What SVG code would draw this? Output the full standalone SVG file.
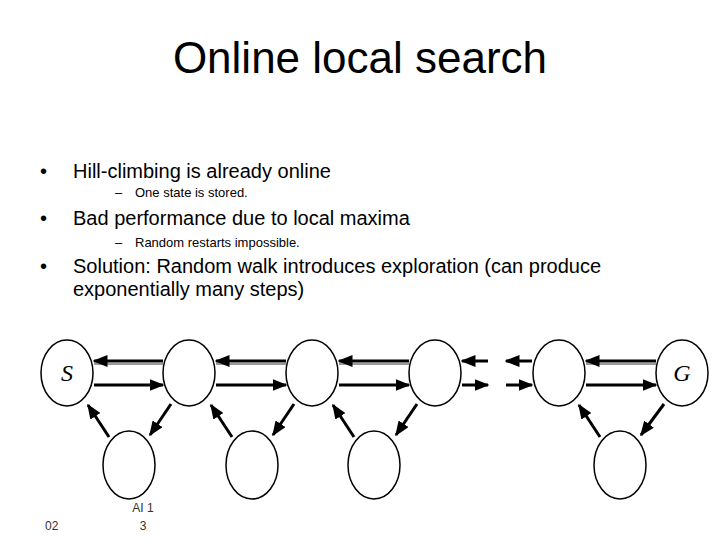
<svg xmlns="http://www.w3.org/2000/svg" width="720" height="540" viewBox="0 0 720 540">
<style>
text{font-family:"Liberation Sans",Arial,sans-serif;fill:#000}
.b{font-size:20px}.s{font-size:13px}
.n ellipse{fill:#fff;stroke:#000;stroke-width:1.5}
.e line{stroke:#000;stroke-width:3}
.g line{stroke:#999;stroke-width:2}
.lab{font-family:"Liberation Serif",serif;font-style:italic;font-size:24px}
.f{font-size:12px;fill:#333}
</style>
<defs><marker id="a" markerWidth="5" markerHeight="4" refX="4.5" refY="2" orient="auto" markerUnits="strokeWidth"><path d="M0,0L5,2L0,4z" fill="#000"/></marker></defs>
<rect width="720" height="540" fill="#fff"/>
<text x="360" y="73" font-size="44" text-anchor="middle">Online local search</text>
<text x="40" y="178" class="b">•</text><text x="73" y="178" class="b">Hill-climbing is already online</text>
<text x="115" y="197" class="s">–</text><text x="135" y="197" class="s">One state is stored.</text>
<text x="40" y="225" class="b">•</text><text x="73" y="225" class="b">Bad performance due to local maxima</text>
<text x="115" y="247" class="s">–</text><text x="135" y="247" class="s">Random restarts impossible.</text>
<text x="40" y="273" class="b">•</text><text x="73" y="273" class="b">Solution: Random walk introduces exploration (can produce</text>
<text x="73" y="296" class="b">exponentially many steps)</text>
<g class="g"><line x1="94" y1="364" x2="163" y2="364"/><line x1="216" y1="364" x2="286" y2="364"/><line x1="339" y1="364" x2="409" y2="364"/><line x1="586" y1="364" x2="656" y2="364"/></g>
<g id="connectors" class="e">
<line x1="163" y1="361" x2="94" y2="361" marker-end="url(#a)"/>
<line x1="94" y1="385" x2="163" y2="385" marker-end="url(#a)"/>
<line x1="286" y1="361" x2="216" y2="361" marker-end="url(#a)"/>
<line x1="216" y1="385" x2="286" y2="385" marker-end="url(#a)"/>
<line x1="409" y1="361" x2="339" y2="361" marker-end="url(#a)"/>
<line x1="339" y1="385" x2="409" y2="385" marker-end="url(#a)"/>
<line x1="488" y1="361" x2="462" y2="361" marker-end="url(#a)"/>
<line x1="462" y1="385" x2="488" y2="385" marker-end="url(#a)"/>
<line x1="532" y1="361" x2="506" y2="361" marker-end="url(#a)"/>
<line x1="506" y1="385" x2="532" y2="385" marker-end="url(#a)"/>
<line x1="656" y1="361" x2="586" y2="361" marker-end="url(#a)"/>
<line x1="586" y1="385" x2="656" y2="385" marker-end="url(#a)"/>
<line x1="109" y1="437" x2="88" y2="405" marker-end="url(#a)"/>
<line x1="171" y1="404" x2="150" y2="435" marker-end="url(#a)"/>
<line x1="232" y1="437" x2="211" y2="405" marker-end="url(#a)"/>
<line x1="294" y1="404" x2="273" y2="435" marker-end="url(#a)"/>
<line x1="354" y1="437" x2="333" y2="405" marker-end="url(#a)"/>
<line x1="417" y1="404" x2="396" y2="435" marker-end="url(#a)"/>
<line x1="600" y1="437" x2="579" y2="405" marker-end="url(#a)"/>
<line x1="664" y1="404" x2="641" y2="435" marker-end="url(#a)"/>
</g>
<g id="S" class="n"><ellipse cx="67" cy="373" rx="26" ry="33"/><text x="67" y="381" text-anchor="middle" class="lab">S</text></g>
<g id="t1" class="n"><ellipse cx="189" cy="373" rx="26" ry="33"/></g>
<g id="t2" class="n"><ellipse cx="312" cy="373" rx="26" ry="33"/></g>
<g id="t3" class="n"><ellipse cx="435" cy="373" rx="26" ry="33"/></g>
<g id="t4" class="n"><ellipse cx="559" cy="373" rx="26" ry="33"/></g>
<g id="G" class="n"><ellipse cx="682" cy="373" rx="26" ry="33"/><text x="682" y="381" text-anchor="middle" class="lab">G</text></g>
<g id="b1" class="n"><ellipse cx="129" cy="465" rx="26" ry="34"/></g>
<g id="b2" class="n"><ellipse cx="252" cy="465" rx="26" ry="34"/></g>
<g id="b3" class="n"><ellipse cx="374" cy="465" rx="26" ry="34"/></g>
<g id="b4" class="n"><ellipse cx="620" cy="465" rx="26" ry="34"/></g>
<text x="143" y="512" class="f" text-anchor="middle">AI 1</text>
<text x="143" y="530" class="f" text-anchor="middle">3</text>
<text x="45" y="530" class="f">02</text>
</svg>
